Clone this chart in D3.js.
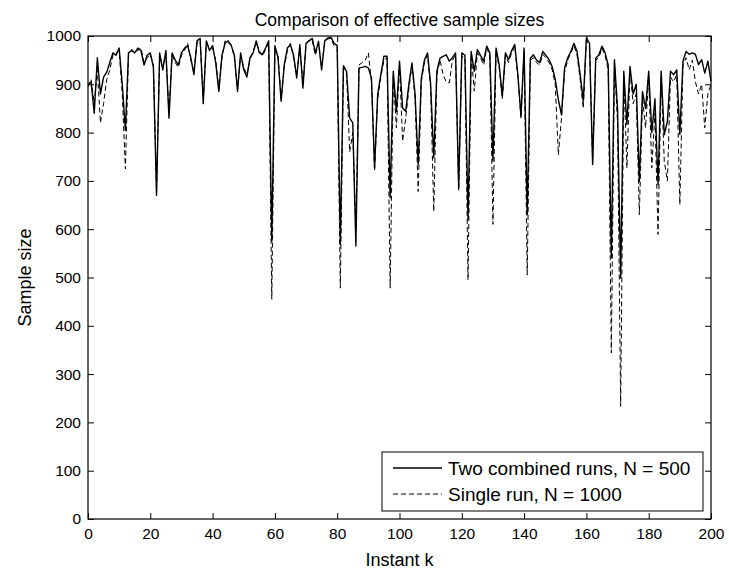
<!DOCTYPE html>
<html>
<head>
<meta charset="utf-8">
<script src="https://cdn.jsdelivr.net/npm/d3@7"></script>
<style>
  body { margin: 0; background: #fff; }
  svg { display: block; }
  text { font-family: "Liberation Sans", Arial, sans-serif; fill: #000; }
</style>
</head>
<body>
<div id="chart"></div>
<script>
// effective sample size per instant k = 0..200
const combinedRuns = [
  900, 905, 840, 955, 880, 915, 925, 945, 965, 960,
  975, 900, 805, 965, 970, 965, 975, 970, 940, 960,
  965, 935, 670, 965, 930, 970, 830, 965, 950, 940,
  965, 975, 980, 955, 920, 990, 995, 860, 990, 970,
  980, 945, 885, 960, 985, 990, 980, 960, 885, 965,
  930, 915, 955, 965, 990, 965, 962, 975, 990, 575,
  980, 955, 865, 940, 975, 982, 960, 913, 982, 892,
  985, 990, 995, 965, 989, 930, 990, 996, 997, 985,
  980, 568, 937, 927, 830, 820, 565, 934, 935, 937,
  934, 913, 727, 879, 920, 958, 958, 665, 927, 844,
  948, 851, 844, 900, 944, 880, 734, 913, 950, 965,
  900, 748, 927, 954, 958, 961, 948, 955, 965, 685,
  965, 960, 620, 968, 927, 972, 960, 948, 979, 965,
  741, 975, 940, 875, 965, 951, 970, 982, 920, 834,
  975, 630, 954, 961, 950, 945, 968, 960, 951, 937,
  910, 868, 837, 934, 955, 968, 985, 968, 920, 865,
  996, 985, 734, 954, 961, 979, 965, 940, 541, 951,
  850, 499, 927, 817, 937, 880, 900, 699, 885, 850,
  927, 800, 870, 692, 927, 796, 823, 927, 920, 930,
  796, 948, 968, 962, 965, 962, 941, 951, 923, 948,
  906
];

const singleRun = [
  895, 910, 860, 930, 820, 860, 910, 930, 960, 965,
  970, 880, 725, 960, 972, 968, 970, 975, 945, 955,
  962, 940, 680, 960, 935, 965, 840, 960, 945, 935,
  960, 970, 985, 950, 925, 985, 990, 870, 985, 975,
  975, 950, 890, 955, 990, 985, 982, 955, 890, 960,
  935, 920, 950, 968, 985, 970, 958, 972, 985, 455,
  975, 960, 870, 935, 970, 985, 955, 918, 978, 900,
  982, 992, 990, 960, 985, 935, 988, 994, 995, 980,
  975, 478, 940, 925, 760, 800, 600, 940, 945, 950,
  965, 905, 720, 870, 915, 950, 955, 478, 920, 810,
  940, 782, 830, 890, 940, 870, 678, 905, 945, 960,
  890, 637, 920, 950, 920, 905, 903, 950, 960, 680,
  958, 955, 495, 962, 886, 965, 955, 940, 975, 960,
  610, 970, 935, 870, 960, 945, 965, 978, 915, 830,
  970, 505, 950, 955, 945, 940, 962, 955, 945, 930,
  900, 754, 830, 925, 950, 965, 980, 960, 910, 850,
  990, 980, 740, 950, 955, 975, 960, 930, 344, 945,
  820, 233, 920, 727, 930, 860, 880, 630, 870, 810,
  915, 727, 840, 589, 915, 740, 700, 915, 905, 920,
  651, 940, 955, 930, 950, 905, 880, 900, 810, 880,
  900
];

const xTicks = [0, 20, 40, 60, 80, 100, 120, 140, 160, 180, 200];
const yTicks = [0, 100, 200, 300, 400, 500, 600, 700, 800, 900, 1000];
const seriesNames = ['Two combined runs, N = 500', 'Single run, N = 1000'];

const width = 729;
const height = 573;
const margin = { top: 36, right: 18, bottom: 54, left: 88 };

const svg = d3.select('#chart')
    .append('svg')
    .attr('width', width)
    .attr('height', height);

svg.append('rect')
    .attr('width', width)
    .attr('height', height)
    .attr('fill', '#fff');

const x = d3.scaleLinear()
    .domain([0, 200])
    .range([margin.left, width - margin.right]);

const y = d3.scaleLinear()
    .domain([0, 1000])
    .range([height - margin.bottom, margin.top]);

// axes, matlab style: ticks pointing inwards on all four sides
const tickLen = 6;
const fmt = d3.format('d');

const xAxis = svg.append('g')
    .attr('transform', `translate(0,${y(0)})`)
    .call(d3.axisBottom(x).tickValues(xTicks).tickFormat(fmt)
        .tickSizeInner(-tickLen).tickSizeOuter(0).tickPadding(9));

const xAxisTop = svg.append('g')
    .attr('transform', `translate(0,${y(1000)})`)
    .call(d3.axisTop(x).tickValues(xTicks).tickSizeInner(-tickLen).tickSizeOuter(0).tickFormat(''));

const yAxis = svg.append('g')
    .attr('transform', `translate(${x(0)},0)`)
    .call(d3.axisLeft(y).tickValues(yTicks).tickFormat(fmt)
        .tickSizeInner(-tickLen).tickSizeOuter(0).tickPadding(7));

const yAxisRight = svg.append('g')
    .attr('transform', `translate(${x(200)},0)`)
    .call(d3.axisRight(y).tickValues(yTicks).tickSizeInner(-tickLen).tickSizeOuter(0).tickFormat(''));

[xAxis, xAxisTop, yAxis, yAxisRight].forEach(g => {
    g.select('.domain').remove();
    g.selectAll('.tick line').attr('stroke', '#000').attr('stroke-width', 1);
    g.selectAll('.tick text')
        .style('font-size', '15.5px')
        .style('font-family', '"Liberation Sans", Arial, sans-serif')
        .attr('fill', '#000');
});

// plot box
svg.append('rect')
    .attr('x', x(0))
    .attr('y', y(1000))
    .attr('width', x(200) - x(0))
    .attr('height', y(0) - y(1000))
    .attr('fill', 'none')
    .attr('stroke', '#000')
    .attr('stroke-width', 1.2);

const line = d3.line()
    .x((d, i) => x(i))
    .y(d => y(d));

svg.append('path')
    .datum(singleRun)
    .attr('d', line)
    .attr('fill', 'none')
    .attr('stroke', '#000')
    .attr('stroke-width', 1)
    .attr('stroke-dasharray', '5,3');

svg.append('path')
    .datum(combinedRuns)
    .attr('d', line)
    .attr('fill', 'none')
    .attr('stroke', '#000')
    .attr('stroke-width', 1.4)
    .attr('stroke-linejoin', 'round');

// title and axis labels
svg.append('text')
    .attr('x', (x(0) + x(200)) / 2)
    .attr('y', 26)
    .attr('text-anchor', 'middle')
    .style('font-size', '17.5px')
    .text('Comparison of effective sample sizes');

svg.append('text')
    .attr('x', (x(0) + x(200)) / 2)
    .attr('y', 566)
    .attr('text-anchor', 'middle')
    .style('font-size', '18px')
    .text('Instant k');

svg.append('text')
    .attr('transform', `translate(31,${(y(0) + y(1000)) / 2}) rotate(-90)`)
    .attr('text-anchor', 'middle')
    .style('font-size', '18px')
    .text('Sample size');

// legend
const legend = svg.append('g').attr('transform', 'translate(382,452)');

legend.append('rect')
    .attr('width', 321)
    .attr('height', 59)
    .attr('fill', '#fff')
    .attr('stroke', '#000')
    .attr('stroke-width', 1);

const legendRows = legend.selectAll('.legend-row')
    .data(seriesNames)
    .enter().append('g')
    .attr('class', 'legend-row')
    .attr('transform', (d, i) => `translate(0,${16 + i * 26})`);

legendRows.append('line')
    .attr('x1', 11)
    .attr('x2', 60)
    .attr('stroke', '#000')
    .attr('stroke-width', (d, i) => i === 0 ? 1.4 : 1)
    .attr('stroke-dasharray', (d, i) => i === 0 ? null : '5,3');

legendRows.append('text')
    .attr('x', 66)
    .attr('dy', '0.35em')
    .style('font-size', '19px')
    .text(d => d);
</script>
</body>
</html>
